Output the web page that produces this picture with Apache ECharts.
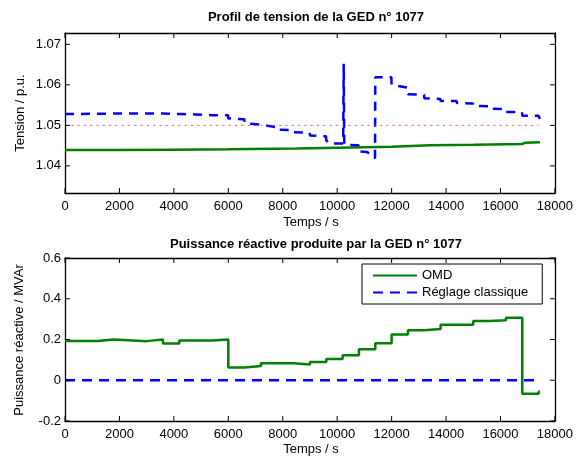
<!DOCTYPE html>
<html>
<head>
<meta charset="utf-8">
<script src="https://cdn.jsdelivr.net/npm/echarts@6/dist/echarts.min.js"></script>
<style>
  html, body { margin: 0; padding: 0; background: #fff; }
  #chart { width: 576px; height: 457px; }
</style>
</head>
<body>
<div id="chart"></div>
<script>
// Tick positions
var timeTicks = [0, 2000, 4000, 6000, 8000, 10000, 12000, 14000, 16000, 18000];
var voltageTicks = [1.04, 1.05, 1.06, 1.07];
var reactiveTicks = [-0.2, 0, 0.2, 0.4, 0.6];

// Voltage profile, OMD control (time s, voltage p.u.)
var omdVoltageTime  = [0, 2000, 4000, 6000, 8500, 10000, 12000, 13400, 15000, 16800, 16900, 17450];
var omdVoltageValue = [1.0439, 1.0439, 1.0440, 1.0441, 1.0443, 1.0445, 1.0447, 1.0451, 1.0452, 1.0454, 1.0457, 1.0458];

// Voltage profile, classic control
var classicVoltageTime = [0, 1800, 3600, 4200, 4800, 5400, 5990, 6000, 6590, 6600, 7190, 7200, 7790, 7800,
  8390, 8400, 8990, 9000, 9590, 9600, 9700, 10220, 10240, 10260, 10790, 10800, 11100, 11390, 11400,
  11990, 12000, 12590, 12600, 13190, 13200, 13790, 13800, 14390, 14400, 14990, 15000, 15590, 15600,
  16190, 16200, 16790, 16800, 17390, 17450];
var classicVoltageValue = [1.0528, 1.0529, 1.0529, 1.0528, 1.0527, 1.0525, 1.0525, 1.0517, 1.0515, 1.0505, 1.0502, 1.0498, 1.0495, 1.0489,
  1.0488, 1.0483, 1.0482, 1.0475, 1.0473, 1.0463, 1.0455, 1.0455, 1.0652, 1.0452, 1.0451, 1.0436, 1.0434, 1.0419, 1.0619,
  1.0619, 1.0600, 1.0593, 1.0577, 1.0575, 1.0567, 1.0565, 1.0560, 1.0560, 1.0555, 1.0554, 1.0548, 1.0547, 1.0541,
  1.0540, 1.0533, 1.0533, 1.0524, 1.0524, 1.0516];

// Voltage set point
var setPointTime  = [0, 17400];
var setPointValue = [1.05, 1.05];

// Reactive power produced, OMD control (step start times, MVAr)
var omdReactiveTime  = [0, 1200, 1800, 3000, 3600, 4200, 5400, 6000, 6600, 7200, 8400, 9000, 9600, 10200,
  10800, 11400, 12000, 12600, 13200, 13800, 15000, 15600, 16200, 16800, 17400, 17450];
var omdReactiveValue = [0.193, 0.200, 0.192, 0.200, 0.180, 0.195, 0.200, 0.062, 0.070, 0.083, 0.077, 0.089, 0.104, 0.123,
  0.152, 0.182, 0.224, 0.245, 0.252, 0.272, 0.291, 0.294, 0.307, -0.066, -0.056, -0.056];

// Reactive power produced, classic control
var classicReactiveTime  = [0, 17450];
var classicReactiveValue = [0, 0];

function pairs(t, v) { return t.map(function (x, i) { return [x, v[i]]; }); }

var FONT = '"Liberation Sans", Arial, Helvetica, sans-serif';
var GREEN = '#008000', BLUE = '#0000ff', RED = '#ff2020';

var TIME_RANGE = [0, 18000];
var VOLT_RANGE = [1.0333, 1.0728];
var REACT_RANGE = [-0.2, 0.6];

var la = { show: true, onZero: false, lineStyle: { color: '#000', width: 1.3 } };
var labelStyle = { color: '#000', fontSize: 13, fontFamily: FONT };

function xMain(gi) {
  return {
    type: 'value', gridIndex: gi, position: 'bottom', min: TIME_RANGE[0], max: TIME_RANGE[1], interval: 2000,
    axisLine: la, axisTick: { show: false }, splitLine: { show: false },
    axisLabel: Object.assign({ margin: 7, formatter: function (v) { return String(v); } }, labelStyle)
  };
}
function xTop(gi) {
  return {
    type: 'value', gridIndex: gi, position: 'top', min: TIME_RANGE[0], max: TIME_RANGE[1], interval: 2000,
    axisLine: la, axisTick: { show: false }, splitLine: { show: false }, axisLabel: { show: false }
  };
}

// Inward tick marks on all four sides of a plot frame, placed through the axis scales
function tickItems(xTicks, yTicks) {
  return xTicks.map(function (t) { return [0, t]; }).concat(yTicks.map(function (v) { return [1, v]; }));
}
function tickRenderer(xr, yr) {
  var L = 5;
  var s = { stroke: '#000', lineWidth: 1 };
  return function (params, api) {
    var kind = api.value(0), v = api.value(1), a, b;
    if (kind === 0) {
      a = api.coord([v, yr[0]]); b = api.coord([v, yr[1]]);
      return { type: 'group', children: [
        { type: 'line', shape: { x1: a[0], y1: a[1], x2: a[0], y2: a[1] - L }, style: s },
        { type: 'line', shape: { x1: b[0], y1: b[1], x2: b[0], y2: b[1] + L }, style: s }
      ] };
    }
    a = api.coord([xr[0], v]); b = api.coord([xr[1], v]);
    return { type: 'group', children: [
      { type: 'line', shape: { x1: a[0], y1: a[1], x2: a[0] + L, y2: a[1] }, style: s },
      { type: 'line', shape: { x1: b[0], y1: b[1], x2: b[0] - L, y2: b[1] }, style: s }
    ] };
  };
}

// Axis titles
function axisTitle(text, x, y, vertical) {
  return {
    type: 'text', x: x, y: y, rotation: vertical ? Math.PI / 2 : 0, silent: true,
    style: { text: text, fill: '#000', font: '13px ' + FONT, align: 'center', verticalAlign: 'middle' }
  };
}

var chart = echarts.init(document.getElementById('chart'), null, { renderer: 'canvas' });

chart.setOption({
  animation: false,
  backgroundColor: '#fff',
  title: [
    { text: 'Profil de tension de la GED n° 1077', left: 311, top: 6, textAlign: 'center',
      textStyle: { fontSize: 13, fontWeight: 'bold', color: '#000', fontFamily: FONT } },
    { text: 'Puissance réactive produite par la GED n° 1077', left: 311, top: 233, textAlign: 'center',
      textStyle: { fontSize: 13, fontWeight: 'bold', color: '#000', fontFamily: FONT } }
  ],
  graphic: [
    axisTitle('Temps / s', 311, 222, false),
    axisTitle('Temps / s', 311, 449, false),
    axisTitle('Tension / p.u.', 20, 113, true),
    axisTitle('Puissance réactive / MVAr', 19, 340, true)
  ],
  grid: [
    { left: 65, top: 33, width: 493, height: 160 },
    { left: 65, top: 258, width: 493, height: 163 }
  ],
  xAxis: [xMain(0), xMain(1), xTop(0), xTop(1)],
  yAxis: [
    { type: 'value', gridIndex: 0, position: 'left', min: VOLT_RANGE[0], max: VOLT_RANGE[1],
      axisLine: la, splitLine: { show: false }, axisTick: { show: false },
      axisLabel: Object.assign({ customValues: voltageTicks, margin: 4,
        formatter: function (v) { return v.toFixed(2); } }, labelStyle) },
    { type: 'value', gridIndex: 1, position: 'left', min: REACT_RANGE[0], max: REACT_RANGE[1], interval: 0.2,
      axisLine: la, splitLine: { show: false }, axisTick: { show: false },
      axisLabel: Object.assign({ margin: 4,
        formatter: function (v) { var r = Math.round(v * 10) / 10; return r === 0 ? '0' : String(r); } }, labelStyle) },
    { type: 'value', gridIndex: 0, position: 'right', min: VOLT_RANGE[0], max: VOLT_RANGE[1],
      axisLine: la, splitLine: { show: false }, axisTick: { show: false }, axisLabel: { show: false } },
    { type: 'value', gridIndex: 1, position: 'right', min: REACT_RANGE[0], max: REACT_RANGE[1], interval: 0.2,
      axisLine: la, splitLine: { show: false }, axisTick: { show: false }, axisLabel: { show: false } }
  ],
  legend: {
    data: ['OMD', 'Réglage classique'],
    orient: 'vertical', left: 362, top: 264,
    backgroundColor: '#fff', borderColor: '#000', borderWidth: 1, borderRadius: 0,
    padding: [5, 14, 5, 10], itemGap: 4, itemWidth: 44, itemHeight: 14,
    itemStyle: { opacity: 0, borderWidth: 0 },
    textStyle: { color: '#000', fontSize: 13, fontFamily: FONT }
  },
  series: [
    { name: 'Tension OMD', type: 'line', xAxisIndex: 0, yAxisIndex: 0, showSymbol: false, symbol: 'none',
      data: pairs(omdVoltageTime, omdVoltageValue), lineStyle: { color: GREEN, width: 2.5 }, itemStyle: { color: GREEN } },
    { name: 'Tension réglage classique', type: 'line', xAxisIndex: 0, yAxisIndex: 0, showSymbol: false, symbol: 'none',
      data: pairs(classicVoltageTime, classicVoltageValue),
      lineStyle: { color: BLUE, width: 2.5, type: [9, 7] }, itemStyle: { color: BLUE } },
    { name: 'Consigne', type: 'line', xAxisIndex: 0, yAxisIndex: 0, showSymbol: false, symbol: 'none',
      data: pairs(setPointTime, setPointValue),
      lineStyle: { color: RED, width: 1, opacity: 0.8, type: [2, 4.3] }, itemStyle: { color: RED } },
    { name: 'OMD', type: 'line', step: 'end', xAxisIndex: 1, yAxisIndex: 1, showSymbol: false, symbol: 'none',
      data: pairs(omdReactiveTime, omdReactiveValue), lineStyle: { color: GREEN, width: 2.5 }, itemStyle: { color: GREEN } },
    { name: 'Réglage classique', type: 'line', xAxisIndex: 1, yAxisIndex: 1, showSymbol: false, symbol: 'none',
      data: pairs(classicReactiveTime, classicReactiveValue),
      lineStyle: { color: BLUE, width: 2.5, type: [10, 7] }, itemStyle: { color: BLUE } },
    { name: 'ticksTop', type: 'custom', xAxisIndex: 0, yAxisIndex: 0, silent: true, clip: false, z: 5,
      data: tickItems(timeTicks, voltageTicks), renderItem: tickRenderer(TIME_RANGE, VOLT_RANGE) },
    { name: 'ticksBottom', type: 'custom', xAxisIndex: 1, yAxisIndex: 1, silent: true, clip: false, z: 5,
      data: tickItems(timeTicks, reactiveTicks), renderItem: tickRenderer(TIME_RANGE, REACT_RANGE) }
  ]
});
</script>
</body>
</html>
